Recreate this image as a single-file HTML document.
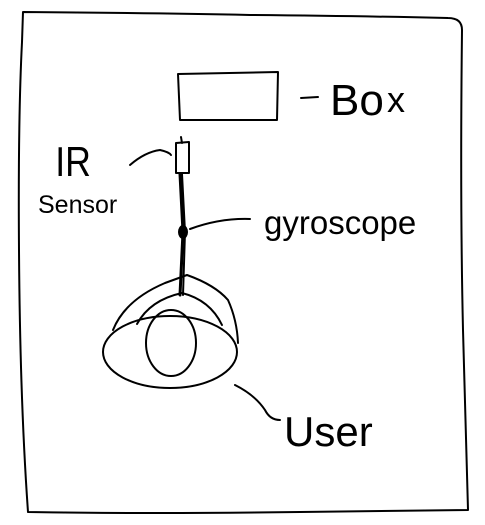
<!DOCTYPE html>
<html><head><style>html,body{margin:0;padding:0;background:#fff}svg{display:block}</style></head>
<body>
<svg width="485" height="525" viewBox="0 0 485 525" xmlns="http://www.w3.org/2000/svg" fill="none" stroke="#000" stroke-width="2" stroke-linecap="round" stroke-linejoin="round">
<path d="M22 42 L23 12 Q150 13 250 15 Q360 16 448 18 Q462 18 462 30 Q460 200 463 330 Q466 450 468 510 L300 512 Q150 514 28 512 Q20 400 19 250 Q18 120 22 42"/>
<path d="M178 74 L278 72 L277 120 L180 120 Z"/>
<path d="M301 98 L318 97"/>
<path d="M176 143 L189 142 L189 173 L176 173 Z"/>
<path d="M181 137 L182 143"/>
<path d="M130 165 Q145 152 160 150 Q169 152 171 155"/>
<path d="M180 174 L183 232 L180 295" stroke-width="3"/>
<path d="M182 174 L185 232 L183 295"/>
<ellipse cx="183" cy="232" rx="4" ry="6" fill="#000"/>
<path d="M190 229 Q220 218 250 219"/>
<ellipse cx="170" cy="352" rx="67" ry="36"/>
<ellipse cx="171" cy="343" rx="25" ry="33"/>
<path d="M113 330 Q125 300 165 283 L187 275 Q215 285 228 300 Q237 320 238 343"/>
<path d="M137 324 Q150 300 182 293 Q210 300 222 325"/>
<path d="M235 385 Q255 395 265 410 Q270 420 280 420"/>
<g fill="#000" stroke="none" font-family="'Liberation Sans', sans-serif">
<text x="330" y="115" font-size="44">Bo</text>
<text x="387" y="112" font-size="36">x</text>
<text x="55" y="176" font-size="42" transform="scale(0.85,1) translate(10,0)">IR</text>
<text x="38" y="213" font-size="25">Sensor</text>
<text x="264" y="234" font-size="33">gyroscope</text>
<text x="284" y="446" font-size="42">User</text>
</g>
</svg>
</body></html>
